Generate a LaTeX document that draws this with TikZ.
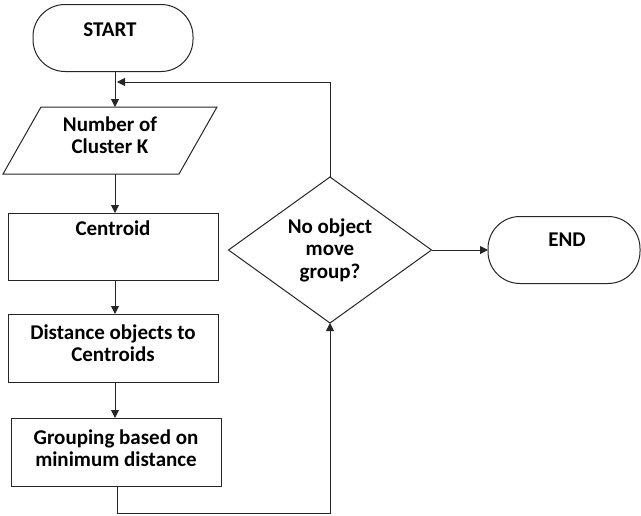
\documentclass[tikz,border=0pt]{standalone}
\usepackage{fontspec}
\setmainfont{Carlito}
\usetikzlibrary{shapes.geometric,arrows.meta}
\tikzset{
  shp/.style={draw=black!85, line width=1pt, inner sep=0pt, outer sep=0pt},
  boxshape/.style={shp, rectangle, minimum width=210pt, minimum height=67pt},
  termshape/.style={shp, rectangle, rounded corners=32pt, minimum height=67pt},
  txt/.style={font=\fontsize{21}{22.5}\selectfont\bfseries, align=center, inner sep=0pt},
  conn/.style={draw=black!85, line width=1pt},
  arr/.style={conn, -{Triangle[length=8pt,width=8pt]}}
}
\begin{document}
\begin{tikzpicture}[x=1pt,y=-1pt]
\useasboundingbox (0,0) rectangle (641,515);
\fill[white] (0,0) rectangle (641,515);
\coordinate (main) at (115,0);
% shapes
\node[termshape, minimum width=160pt] (start) at (113,38) {};
\node[inner sep=0pt, outer sep=0pt, minimum width=176pt, minimum height=67pt] (para) at (110,140.5) {};
\draw[conn] ([xshift=19pt]para.north west) -- ([xshift=19pt]para.north east)
  -- ([xshift=-19pt]para.south east) -- ([xshift=-19pt]para.south west) -- cycle;
\node[boxshape] (cen) at (113,246.5) {};
\node[boxshape, minimum height=68pt] (dist) at (113,348) {};
\node[boxshape, minimum height=68pt] (grp) at (116,452) {};
\node[shp, diamond, minimum width=203pt, minimum height=146pt, aspect=1.39] (dia) at (330,250) {};
\node[termshape, minimum width=152pt] (end) at (564,250) {};
% texts
\node[txt] (startT) at (110,30) {START};
\node[txt] (paraT) at (110,135) {Number of\\Cluster K};
\node[txt] (cenT) at (113,228) {Centroid};
\node[txt] (distT) at (113,343) {Distance objects to\\Centroids};
\node[txt] (grpT) at (116,448) {Grouping based on\\minimum distance};
\node[txt] (diaT) at (330,250) {No object\\move\\group?};
\node[txt] (endT) at (567,240) {END};
% connectors
\coordinate (fb) at (117,82);
\coordinate (bot) at (117,513);
\draw[arr] (start.south -| main) -- (para.north -| main);
\draw[arr] (para.south -| main) -- (cen.north -| main);
\draw[arr] (cen.south -| main) -- (dist.north -| main);
\draw[arr] (dist.south -| main) -- (grp.north -| main);
\draw[arr] (grp.south -| bot) -- (bot) -| (dia.south);
\draw[arr] (dia.north) |- (fb);
\draw[arr] (dia.east) -- (end.west);
\end{tikzpicture}
\end{document}
